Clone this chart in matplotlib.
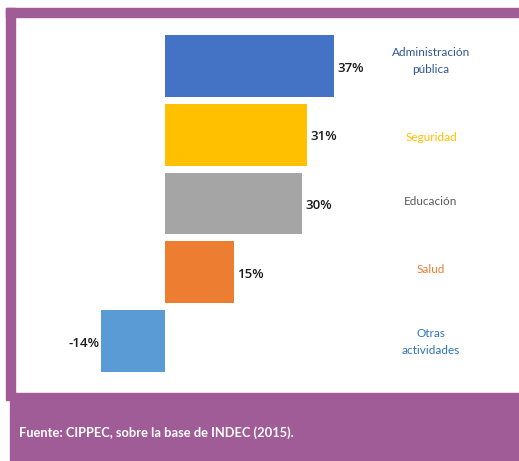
import matplotlib
matplotlib.use("Agg")
import matplotlib.pyplot as plt
from matplotlib.patches import Rectangle
from matplotlib import transforms

categories = ["Administración\npública", "Seguridad", "Educación", "Salud", "Otras\nactividades"]
values = [37, 31, 30, 15, -14]
value_labels = ["37%", "31%", "30%", "15%", "-14%"]
bar_colors = ["#4472C4", "#FFC000", "#A5A5A5", "#ED7D31", "#5B9BD5"]
label_colors = ["#2F5597", "#FFC000", "#595959", "#ED7D31", "#2E75B6"]
source = "Fuente: CIPPEC, sobre la base de INDEC (2015)."

W, H = 519, 461
purple = "#A05C96"
fig = plt.figure(figsize=(W / 100, H / 100), dpi=100)
fig.patch.set_facecolor("white")

def px(x0, y0, x1, y1, color):
    fig.patches.append(Rectangle((x0 / W, 1 - y1 / H), (x1 - x0) / W, (y1 - y0) / H,
                                 transform=fig.transFigure, color=color, zorder=0))

# frame decorations
px(6, 8, W, 17, purple)       # top band
px(6, 8, 15, 400, purple)     # left strip
px(10, 393, W, H, purple)     # bottom band

ax = fig.add_axes([0, 0, 1, 1])
ax.set_facecolor("none")
scale = 4.57
zero = 165
ax.set_xlim(-zero / scale, (W - zero) / scale)
step = 68.75
c0 = 66
ax.set_ylim((H - c0) / step, -c0 / step)
ax.axis("off")

ypos = list(range(len(categories)))
ax.barh(ypos, values, height=0.9, color=bar_colors, zorder=2)

for y, v, lab in zip(ypos, values, value_labels):
    if v >= 0:
        ax.text(v + 0.8, y + 0.03, lab, ha="left", va="center", fontsize=9.5,
                family="Open Sans", fontweight="semibold", color="#1a1a1a")
    else:
        ax.text(v - 0.4, y + 0.03, lab, ha="right", va="center", fontsize=9.5,
                family="Open Sans", fontweight="semibold", color="#1a1a1a")

# label vertical offsets (in pixels) relative to bar centres
label_offsets = [-5, 3, -2, -3, 1]
blend = transforms.blended_transform_factory(fig.transFigure, ax.transData)
for y, cat, col, off in zip(ypos, categories, label_colors, label_offsets):
    ax.text(431 / W, y + off / step, cat, transform=blend, ha="center", va="center",
            fontsize=8.5, family="Lato", color=col, linespacing=1.75)

fig.text(19 / W, 1 - 433 / H, source, ha="left", va="center", fontsize=9.3,
         family="Lato", fontweight="bold", color="white")

fig.savefig("out.png", dpi=100, facecolor="white")
